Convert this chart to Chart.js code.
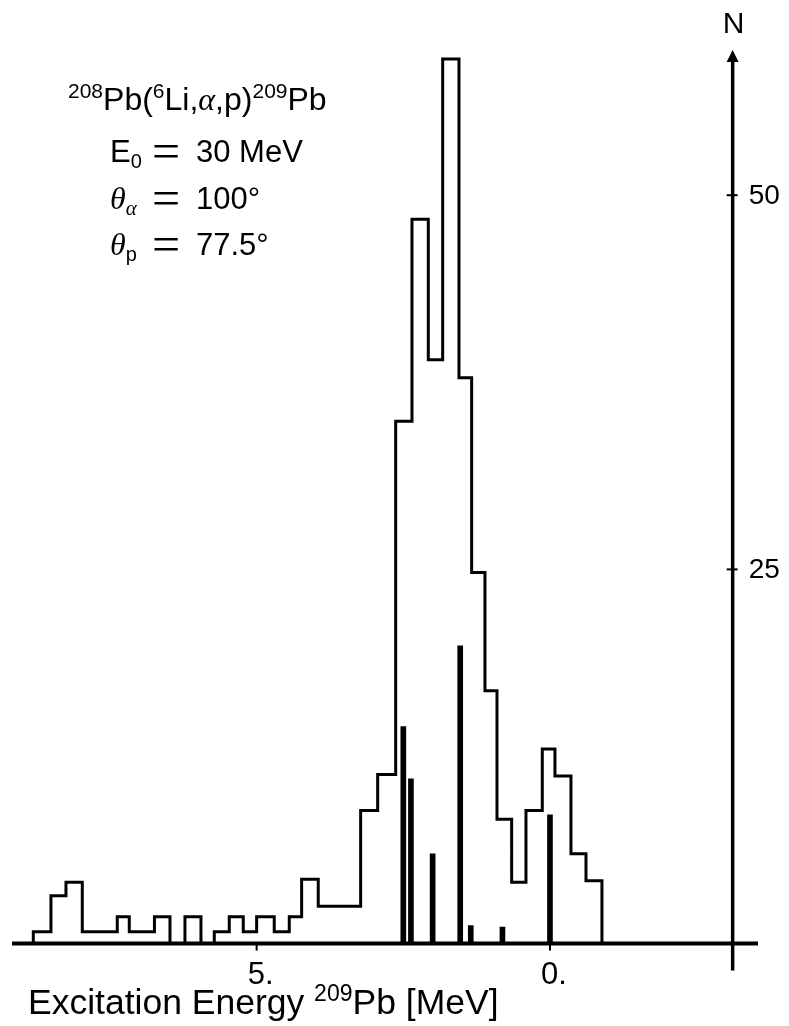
<!DOCTYPE html>
<html><head><meta charset="utf-8">
<script src="https://cdn.jsdelivr.net/npm/chart.js@4/dist/chart.umd.min.js"></script>
<style>html,body{margin:0;padding:0;background:#fff}#wrap{width:789px;height:1026px;position:relative}</style>
</head><body><div id="wrap"><canvas id="c" width="789" height="1026"></canvas></div>
<script>
// Histogram bin edges (excitation energy, MeV) and counts per bin
const binEdges = [8.807, 8.506, 8.250, 7.972, 7.376, 7.171, 6.742, 6.477, 6.222, 5.949,
  5.722, 5.467, 5.228, 5.000, 4.700, 4.444, 4.233, 3.950, 3.227, 2.937,
  2.630, 2.352, 2.074, 1.829, 1.551, 1.335, 1.108, 0.903, 0.653, 0.409,
  0.131, -0.085, -0.358, -0.614, -0.886];
const binCounts = [0.8, 3.2, 4.1, 0.8, 1.8, 0.8, 1.8, 0, 1.8, 0,
  0.8, 1.8, 0.8, 1.8, 0.8, 1.8, 4.3, 2.5, 8.9, 11.3,
  34.9, 48.4, 39.0, 59.1, 37.8, 24.8, 16.9, 8.3, 4.1, 8.9,
  13.0, 11.2, 6.0, 4.2];
// Known levels (vertical bars)
const levelEnergies = [2.50, 2.37, 2.00, 1.53, 1.35, 0.81, 0.00];
const levelHeights = [14.5, 11.0, 6.0, 19.9, 1.2, 1.1, 8.6];
// Axes
const xTickValues = [5, 0];
const xTickLabels = ['5.', '0.'];
const yTickValues = [25, 50];
const yTickLabels = ['25', '50'];
const xMin = -3.546, xMax = 9.17;
const yMin = 0, yMax = 59.7;
const yAxisAtEnergy = -3.114;

const stepPoints = [{x: binEdges[0], y: 0}];
binCounts.forEach((c, i) => stepPoints.push({x: binEdges[i], y: c}));
stepPoints.push({x: binEdges[binEdges.length - 1], y: 0});
const levelPoints = levelEnergies.map((e, i) => ({x: e, y: levelHeights[i]}));

const SANS = '"Liberation Sans", Arial, sans-serif';
const SERIF = '"Liberation Serif", "DejaVu Serif", serif';

function drawRuns(ctx, x, y, runs) {
  let cx = x;
  runs.forEach(r => {
    if (r.at !== undefined) cx = r.at;
    ctx.font = r.font;
    ctx.fillText(r.t, cx, y + (r.dy || 0));
    cx += ctx.measureText(r.t).width + (r.gap || 0);
  });
}
function drawEq(ctx, cx, y) {
  ctx.save();
  ctx.textAlign = 'center';
  ctx.font = '50px ' + SERIF;
  ctx.fillText('=', cx, y);
  ctx.restore();
}

const axesPlugin = {
  id: 'axesPlugin',
  afterDraw(chart) {
    const ctx = chart.ctx;
    const xs = chart.scales.x, ys = chart.scales.y;
    const area = chart.chartArea;
    const y0 = ys.getPixelForValue(0);
    const ax = xs.getPixelForValue(yAxisAtEnergy);
    ctx.save();
    ctx.strokeStyle = '#000';
    ctx.fillStyle = '#000';
    // x axis
    ctx.lineWidth = 4;
    ctx.beginPath();
    ctx.moveTo(area.left, y0); ctx.lineTo(area.right, y0); ctx.stroke();
    // x ticks
    ctx.lineWidth = 2;
    xTickValues.forEach((v, i) => {
      const px = xs.getPixelForValue(v);
      ctx.beginPath(); ctx.moveTo(px, y0); ctx.lineTo(px, y0 + 7); ctx.stroke();
      ctx.font = '31px ' + SANS;
      ctx.textAlign = 'center'; ctx.textBaseline = 'alphabetic';
      ctx.fillText(xTickLabels[i], px + 4, 984);
    });
    // y axis
    ctx.lineWidth = 3.5;
    ctx.beginPath();
    ctx.moveTo(ax, y0 + 27); ctx.lineTo(ax, area.top + 8); ctx.stroke();
    ctx.beginPath();
    ctx.moveTo(ax, area.top); ctx.lineTo(ax - 6, area.top + 12); ctx.lineTo(ax + 6, area.top + 12); ctx.closePath(); ctx.fill();
    ctx.lineWidth = 2;
    yTickValues.forEach((v, i) => {
      const py = ys.getPixelForValue(v);
      ctx.beginPath(); ctx.moveTo(ax - 6, py); ctx.lineTo(ax + 5, py); ctx.stroke();
      ctx.font = '28px ' + SANS;
      ctx.textAlign = 'left'; ctx.textBaseline = 'middle';
      ctx.fillText(yTickLabels[i], ax + 16, py + 1);
    });
    ctx.textBaseline = 'alphabetic';
    ctx.textAlign = 'center';
    ctx.font = '30px ' + SANS;
    ctx.fillText('N', ax + 1, 33);
    // axis title
    ctx.textAlign = 'left';
    drawRuns(ctx, 28, 1014, [
      {t: 'Excitation Energy ', font: '35.5px ' + SANS},
      {t: '209', font: '23px ' + SANS, dy: -13},
      {t: 'Pb [MeV]', font: '35.5px ' + SANS}
    ]);
    // annotations
    drawRuns(ctx, 68, 110, [
      {t: '208', font: '21px ' + SANS, dy: -12},
      {t: 'Pb(', font: '32px ' + SANS},
      {t: '6', font: '21px ' + SANS, dy: -12},
      {t: 'Li,', font: '32px ' + SANS},
      {t: '\u03B1', font: 'italic 32px ' + SERIF},
      {t: ',p)', font: '32px ' + SANS},
      {t: '209', font: '21px ' + SANS, dy: -12},
      {t: 'Pb', font: '32px ' + SANS}
    ]);
    drawRuns(ctx, 110, 162, [
      {t: 'E', font: '31px ' + SANS},
      {t: '0', font: '20px ' + SANS, dy: 6},
      {t: '30 MeV', font: '31px ' + SANS, at: 196}
    ]);
    drawEq(ctx, 166, 168);
    drawRuns(ctx, 110, 209, [
      {t: '\u03B8', font: 'italic 32px ' + SERIF},
      {t: '\u03B1', font: 'italic 21px ' + SERIF, dy: 6},
      {t: '100\u00B0', font: '31px ' + SANS, at: 196}
    ]);
    drawEq(ctx, 166, 215);
    drawRuns(ctx, 110, 255, [
      {t: '\u03B8', font: 'italic 32px ' + SERIF},
      {t: 'p', font: '20px ' + SANS, dy: 6},
      {t: '77.5\u00B0', font: '31px ' + SANS, at: 196}
    ]);
    drawEq(ctx, 166, 261);
    ctx.restore();
  }
};

new Chart(document.getElementById('c'), {
  type: 'line',
  data: {
    datasets: [
      {
        type: 'line', data: stepPoints, stepped: true,
        borderColor: '#000', borderWidth: 3, pointRadius: 0, fill: false, clip: false,
        borderJoinStyle: 'miter', borderCapStyle: 'butt'
      },
      {
        type: 'bar', data: levelPoints, backgroundColor: '#000', borderWidth: 0,
        barThickness: 5, grouped: false
      }
    ]
  },
  options: {
    responsive: false, animation: false, devicePixelRatio: 1,
    layout: {padding: {left: 12, right: 31, top: 50, bottom: 82.4}},
    plugins: {legend: {display: false}, tooltip: {enabled: false}, title: {display: false}},
    scales: {
      x: {type: 'linear', min: xMin, max: xMax, reverse: true, display: false, offset: false},
      y: {type: 'linear', min: yMin, max: yMax, display: false, beginAtZero: true}
    }
  },
  plugins: [axesPlugin]
});
</script></body></html>
